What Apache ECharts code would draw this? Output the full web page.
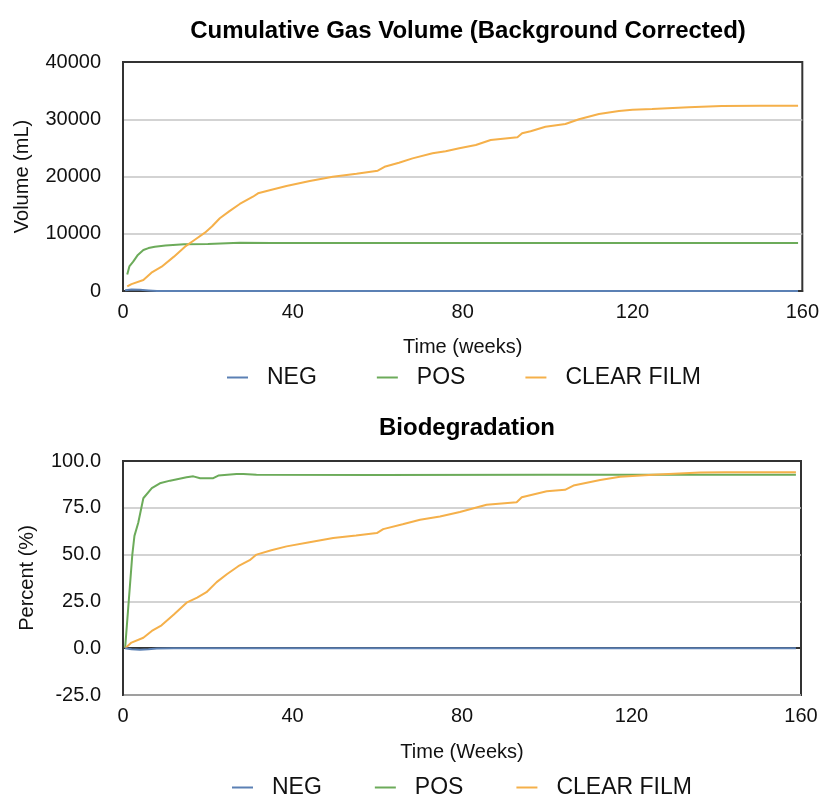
<!DOCTYPE html>
<html>
<head>
<meta charset="utf-8">
<script src="https://cdn.jsdelivr.net/npm/echarts@6/dist/echarts.min.js"></script>
<style>
  html, body { margin: 0; padding: 0; background: #fff; }
  #main { width: 822px; height: 796px; }
</style>
</head>
<body>
<div id="main"></div>
<script>
// series names
var seriesNames = ['NEG', 'POS', 'CLEAR FILM'];
var seriesColors = ['#5b80b4', '#6cab5a', '#f5b04a'];

// top chart: cumulative gas volume (mL) vs weeks
var gasNegWeeks = [0.5, 2, 4, 6, 8, 20, 60, 100, 159];
var gasNegVals = [150, 250, 200, 100, 0, 0, 0, 0, 0];

var gasPosWeeks = [1, 1.5, 2.4, 3.5, 4.8, 6, 7.5, 10, 14.4, 20, 27.5, 35, 60, 100, 159];
var gasPosVals = [2900, 4300, 5120, 6300, 7160, 7500, 7740, 7950, 8150, 8200, 8440, 8400, 8400, 8400, 8400];

var gasClearWeeks = [1, 2, 4.8, 6.7, 9.1, 12, 14.6, 17, 19.3, 21, 22.8, 25, 27.5, 30.6, 31.8, 35, 38.5, 44, 49.4, 55, 60, 61.6, 65, 68.2, 72.9, 76, 79.2, 83.1, 86.6, 92.9, 94, 96, 99.5, 104.2, 107.4, 112.1, 116.8, 120, 124.6, 133.2, 141, 150, 159];
var gasClearVals = [800, 1200, 1920, 3200, 4250, 6000, 7740, 9000, 10190, 11300, 12700, 13900, 15200, 16470, 17060, 17700, 18340, 19200, 19970, 20500, 21020, 21700, 22400, 23170, 24050, 24400, 24920, 25500, 26380, 26840, 27540, 27900, 28700, 29170, 29990, 30920, 31440, 31650, 31790, 32090, 32310, 32350, 32350];

// bottom chart: biodegradation (%) vs weeks
var bioNegWeeks = [0.5, 2, 4, 6, 8, 12, 40, 80, 120, 158.8];
var bioNegVals = [0, -0.6, -0.8, -0.5, -0.1, 0, 0, 0, 0, 0];

var bioPosWeeks = [0.5, 2.2, 2.7, 3.6, 4.8, 6.8, 8.7, 11.1, 15, 16.6, 18.2, 21.3, 22.5, 26.8, 28.4, 31.5, 60, 100, 158.8];
var bioPosVals = [0, 50, 60, 67, 80.1, 85.5, 88.1, 89.5, 91.3, 91.8, 90.8, 90.8, 92.2, 93.1, 93.1, 92.6, 92.5, 92.6, 92.6];

var bioClearWeeks = [0.5, 2, 4.8, 6.8, 9.1, 12, 15, 17.5, 19.7, 22.1, 24.5, 27.2, 29.9, 31.5, 35, 38.6, 44, 49.6, 55, 59.9, 61.4, 66, 70.1, 74.8, 79.5, 85.8, 92.9, 94.1, 100, 104.3, 106.3, 112.6, 117.3, 125.1, 136.2, 142, 150, 158.8];
var bioClearVals = [0, 3, 5.6, 9.2, 12.2, 18, 24.3, 27, 29.9, 35.3, 39.5, 43.8, 47, 50, 52.3, 54.4, 56.6, 58.9, 60.2, 61.5, 63.6, 66.2, 68.6, 70.4, 72.8, 76.6, 78, 80.6, 83.8, 84.6, 86.9, 89.9, 91.6, 92.7, 93.8, 94, 94, 94];

// axis ticks
var weekTicks = { min: 0, max: 160, interval: 40 };
var gasTicks = { min: 0, max: 40000, interval: 10000 };
var bioTicks = { min: -25, max: 100, interval: 25 };

function pairs(xs, ys) {
  return xs.map(function (x, i) { return [x, ys[i]]; });
}

function lineSeries(name, idx, color, data) {
  return {
    name: name,
    type: 'line',
    xAxisIndex: idx,
    yAxisIndex: idx,
    data: data,
    showSymbol: false,
    smooth: false,
    lineStyle: { color: color, width: 2 },
    itemStyle: { color: color },
    z: name == 'NEG' ? 4 : 3
  };
}

var font = 'Liberation Sans, Arial, Helvetica, sans-serif';
var txt = '#111';

function xAxisCfg(idx, name, gap) {
  return {
    type: 'value',
    gridIndex: idx,
    min: weekTicks.min, max: weekTicks.max, interval: weekTicks.interval,
    name: name,
    nameLocation: 'middle',
    nameGap: gap,
    nameTextStyle: { color: txt, fontSize: 20, fontFamily: font },
    axisLine: { show: true, lineStyle: { color: '#333', width: 2 } },
    axisTick: { show: false },
    axisLabel: { color: txt, fontSize: 20, fontFamily: font, margin: 11 },
    splitLine: { show: false }
  };
}

function yAxisCfg(idx, ticks, name, gap, fmt) {
  return {
    type: 'value',
    gridIndex: idx,
    min: ticks.min, max: ticks.max, interval: ticks.interval,
    name: name,
    nameLocation: 'middle',
    nameGap: gap,
    nameTextStyle: { color: txt, fontSize: 20, fontFamily: font },
    axisLine: { show: true, lineStyle: { color: '#333', width: 2 } },
    axisTick: { show: false },
    axisLabel: { color: txt, fontSize: 20, fontFamily: font, margin: 22, formatter: fmt },
    splitLine: { show: true, showMaxLine: false, lineStyle: { color: '#c4c4c4', width: 1.5 } }
  };
}

function legendCfg(left, top, gap) {
  return {
    data: seriesNames,
    left: left,
    top: top,
    itemGap: gap,
    icon: 'rect',
    itemWidth: 21,
    itemHeight: 2,
    textStyle: { color: txt, fontSize: 23, fontFamily: font, padding: [0, 0, 0, 14] }
  };
}

var option = {
  backgroundColor: '#fff',
  animation: false,
  color: seriesColors,
  title: [
    { text: 'Cumulative Gas Volume (Background Corrected)', left: 463, top: 14, textAlign: 'center',
      textStyle: { color: '#000', fontSize: 24, fontWeight: 'bold', fontFamily: font } },
    { text: 'Biodegradation', left: 462, top: 411, textAlign: 'center',
      textStyle: { color: '#000', fontSize: 24, fontWeight: 'bold', fontFamily: font } }
  ],
  legend: [legendCfg(222, 361, 60), legendCfg(227, 771, 53)],
  grid: [
    { left: 123, top: 62, right: 18, height: 229, show: true, borderColor: '#333', borderWidth: 2 },
    { left: 123, top: 461, right: 21, height: 234, show: true, borderColor: '#333', borderWidth: 2 }
  ],
  xAxis: [xAxisCfg(0, 'Time (weeks)', 46), xAxisCfg(1, 'Time (Weeks)', 47)],
  yAxis: [
    yAxisCfg(0, gasTicks, 'Volume (mL)', 91, function (v) { return String(v); }),
    yAxisCfg(1, bioTicks, 'Percent (%)', 86, function (v) { return v.toFixed(1); })
  ],
  series: [
    lineSeries('NEG', 0, seriesColors[0], pairs(gasNegWeeks, gasNegVals)),
    lineSeries('POS', 0, seriesColors[1], pairs(gasPosWeeks, gasPosVals)),
    lineSeries('CLEAR FILM', 0, seriesColors[2], pairs(gasClearWeeks, gasClearVals)),
    lineSeries('NEG', 1, seriesColors[0], pairs(bioNegWeeks, bioNegVals)),
    lineSeries('POS', 1, seriesColors[1], pairs(bioPosWeeks, bioPosVals)),
    lineSeries('CLEAR FILM', 1, seriesColors[2], pairs(bioClearWeeks, bioClearVals))
  ]
};

var chart = echarts.init(document.getElementById('main'));
chart.setOption(option);
</script>
</body>
</html>
